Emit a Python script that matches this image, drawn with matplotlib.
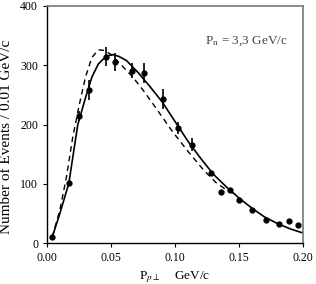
import matplotlib
matplotlib.use("Agg")
import matplotlib.pyplot as plt

plt.rcParams['font.family'] = ['Liberation Serif', 'DejaVu Serif']
plt.rcParams['mathtext.fontset'] = 'stix'

# measured points
px = [0.004, 0.017, 0.0246, 0.033, 0.046, 0.053, 0.066, 0.076, 0.0905, 0.102,
      0.113, 0.128, 0.136, 0.143, 0.150, 0.160, 0.171, 0.1815, 0.189, 0.196]
py = [10, 101, 214, 258, 314, 305, 291, 287, 243, 194,
      166, 118, 87, 90, 73, 56, 39, 32, 37, 30]
perr = [0, 0, 8, 17, 16, 15, 13, 17, 17, 10,
        11, 0, 0, 0, 0, 0, 0, 0, 0, 0]

# solid curve
sx = [0.004, 0.010, 0.017, 0.024, 0.030, 0.035, 0.040, 0.046, 0.051, 0.056,
      0.062, 0.071, 0.080, 0.090, 0.100, 0.110, 0.120, 0.130, 0.140, 0.150,
      0.160, 0.170, 0.180, 0.190, 0.200]
sy = [10, 50, 101, 200, 245, 280, 302, 315, 318, 315,
      308, 288, 265, 238, 205, 172, 143, 116, 95, 76,
      59, 44, 33, 24, 17]

# dashed curve
dx = [0.004, 0.010, 0.015, 0.020, 0.025, 0.030, 0.035, 0.040, 0.045, 0.050,
      0.055, 0.060, 0.067, 0.075, 0.085, 0.098, 0.110, 0.122, 0.132, 0.140, 0.146]
dy = [10, 56, 110, 178, 232, 280, 313, 326, 325, 318,
      307, 296, 280, 258, 228, 188, 155, 124, 102, 90, 84]

fig = plt.figure(figsize=(3.16, 2.84), dpi=100)
ax = fig.add_axes([0.149, 0.144, 0.81, 0.835])

ax.plot(sx, sy, color='black', lw=1.2)
ax.plot(dx, dy, color='black', lw=1.0, ls=(0, (4, 3)))
ax.errorbar(px, py, yerr=perr, fmt='o', color='black', ms=3.5, elinewidth=1.2, capsize=0)

ax.set_xlim(0, 0.2)
ax.set_ylim(0, 400)
ax.set_xticks([0.0, 0.05, 0.10, 0.15, 0.20])
ax.set_xticklabels(['0.00', '0.05', '0.10', '0.15', '0.20'])
ax.set_yticks([0, 100, 200, 300, 400])
ax.tick_params(labelsize=8.5, length=3, direction='out', top=False, right=False)
for s in ['top', 'right']:
    ax.spines[s].set_color('#777777')
    ax.spines[s].set_linewidth(1.2)
for s in ['left', 'bottom']:
    ax.spines[s].set_linewidth(1.0)

ax.set_ylabel('Number of Events / 0.01 GeV/c', fontsize=11)
ax.yaxis.set_label_coords(-0.135, 0.45)
ax.set_xlabel(r'P$_{p\perp}$    GeV/c', fontsize=9.5, labelpad=4)
ax.text(0.94, 0.85, r'P$_\mathrm{n}$ = 3,3 GeV/c', transform=ax.transAxes,
        ha='right', va='center', fontsize=9.5, color='#444444')

fig.savefig('out.png', dpi=100)
